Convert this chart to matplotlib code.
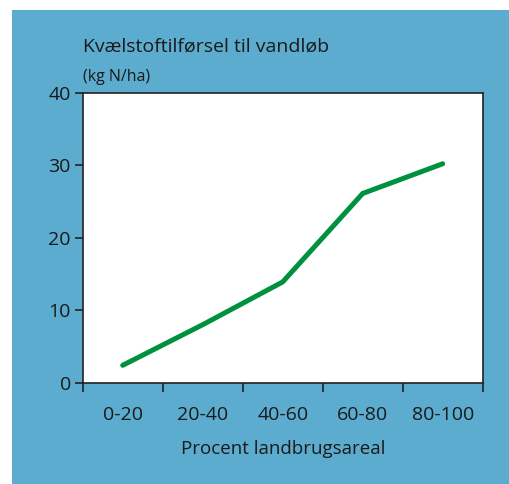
import matplotlib.pyplot as plt
from matplotlib.patches import Rectangle

# data
categories = ["0-20", "20-40", "40-60", "60-80", "80-100"]
nitrogen = [2.4, 8.0, 13.9, 26.1, 30.2]

plt.rcParams['font.family'] = ['Open Sans', 'DejaVu Sans']

fig = plt.figure(figsize=(5.09, 4.84), dpi=100)
fig.patch.set_facecolor('white')

# blue panel behind the chart
fig.patches.append(Rectangle((12 / 509, 0), 1, (484 - 10) / 484,
                             transform=fig.transFigure, facecolor='#5BACCE',
                             edgecolor='none', zorder=-10))

ax = fig.add_axes([82.7 / 509, (484 - 382.7) / 484, 400 / 509, 290 / 484])
ax.set_facecolor('white')

x = [i + 0.5 for i in range(len(categories))]
ax.plot(x, nitrogen, color='#00913F', linewidth=3.6, solid_capstyle='round',
        solid_joinstyle='miter')

ax.set_xlim(0, len(categories))
ax.set_ylim(0, 40)
ax.set_yticks([0, 10, 20, 30, 40])
ax.set_xticks(range(len(categories) + 1))
ax.set_xticklabels([])
ax.set_xticks(x, minor=True)
ax.set_xticklabels(categories, minor=True)
ax.tick_params(axis='x', which='minor', length=0, pad=17, labelsize=14, labelcolor='#1a1a1a')
ax.tick_params(axis='x', which='major', direction='out', length=6.5, width=1.2, color='#222222')
ax.tick_params(axis='y', direction='out', length=5.5, width=1.2, color='#222222',
               labelsize=14, labelcolor='#1a1a1a', pad=3)

for s in ax.spines.values():
    s.set_linewidth(1.2)
    s.set_color('#222222')

ax.set_xlabel('Procent landbrugsareal', fontsize=13.5, color='#1a1a1a', labelpad=11)

fig.text(83 / 509, 1 - 52 / 484, 'Kvælstoftilførsel til vandløb', fontsize=14,
         color='#1a1a1a', ha='left', va='baseline')
fig.text(83 / 509, 1 - 81 / 484, '(kg N/ha)', fontsize=11.5,
         color='#1a1a1a', ha='left', va='baseline')

fig.savefig('out.png', dpi=100, facecolor=fig.get_facecolor())
